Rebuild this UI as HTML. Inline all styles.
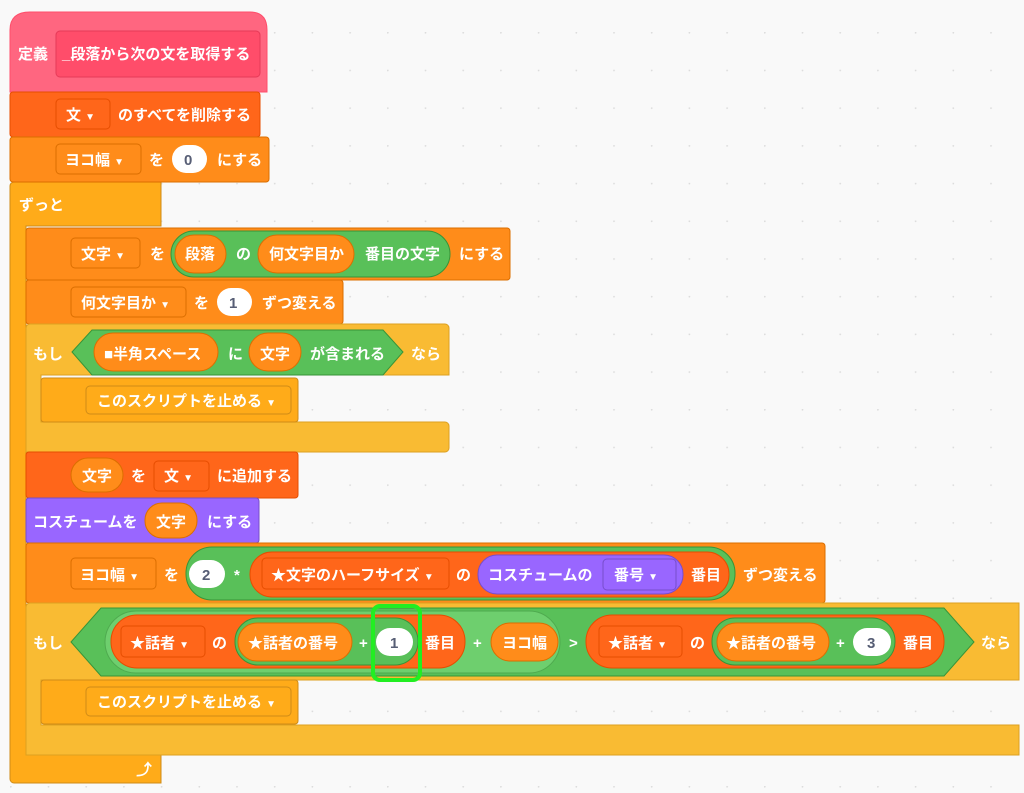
<!DOCTYPE html>
<html><head><meta charset="utf-8"><style>
html,body{margin:0;padding:0;background:#F9F9F9;}
svg{display:block}
text{font-family:"Liberation Sans","Noto Sans CJK JP",sans-serif;font-weight:bold;font-size:15px;fill:#fff;}
.d{fill:#575E75;}
.a{font-size:10px;}
</style></head><body>
<svg width="1024" height="793" viewBox="0 0 1024 793" xmlns="http://www.w3.org/2000/svg">
<defs><pattern id="g" x="10" y="32" width="37.7" height="37.7" patternUnits="userSpaceOnUse"><circle cx="0.8" cy="0.8" r="0.9" fill="#dcdcdc"/></pattern></defs>
<rect width="1024" height="793" fill="#F9F9F9"/>
<rect width="1024" height="793" fill="url(#g)"/>

<!-- forever -->
<path d="M10 186 a4 4 0 0 1 4 -4 H161 V226 H26 V755 H161 V783 H14 a4 4 0 0 1 -4 -4 Z" fill="#FFAB19" stroke="#CF8B17" stroke-width="1"/>
<text x="19" y="210">ずっと</text>
<text x="136" y="775" style="font-size:16px">⤴</text>

<!-- define hat -->
<path d="M10 30 Q10 12 30 12 H250 Q267 12 267 30 V92 H10 Z" fill="#FF6680" stroke="#FF4D6A"/>
<rect x="56" y="31" width="204" height="46" rx="4" fill="#FF4D6A" stroke="#E63A58"/>
<text x="18" y="59">定義</text>
<text x="62" y="59">_段落から次の文を取得する</text>

<!-- delete all -->
<rect x="10" y="92" width="250" height="45" rx="3" fill="#FF661A" stroke="#E64D00"/>
<rect x="56" y="99" width="54" height="30" rx="4" fill="#FF661A" stroke="#E64D00"/>
<text x="66" y="120">文 <tspan class="a">▼</tspan></text>
<text x="118" y="120">のすべてを削除する</text>

<!-- set yoko 0 -->
<rect x="10" y="137" width="259" height="45" rx="3" fill="#FF8C1A" stroke="#DB6E00"/>
<rect x="56" y="144" width="85" height="30" rx="4" fill="#FF8C1A" stroke="#DB6E00"/>
<text x="65" y="165">ヨコ幅 <tspan class="a">▼</tspan></text>
<text x="149" y="165">を</text>
<rect x="172" y="145" width="35" height="28" rx="14" fill="#fff"/>
<text x="184" y="165" class="d">0</text>
<text x="217" y="165">にする</text>

<!-- set 文字 -->
<rect x="26" y="228" width="484" height="52" rx="3" fill="#FF8C1A" stroke="#DB6E00"/>
<rect x="71" y="238" width="69" height="30" rx="4" fill="#FF8C1A" stroke="#DB6E00"/>
<text x="81" y="259">文字 <tspan class="a">▼</tspan></text>
<text x="150" y="259">を</text>
<rect x="171" y="231" width="279" height="46" rx="23" fill="#59C059" stroke="#389438"/>
<rect x="175" y="235" width="51" height="38" rx="19" fill="#FF8C1A" stroke="#DB6E00"/>
<text x="185" y="259">段落</text>
<text x="236" y="259">の</text>
<rect x="258" y="235" width="96" height="38" rx="19" fill="#FF8C1A" stroke="#DB6E00"/>
<text x="269" y="259">何文字目か</text>
<text x="365" y="259">番目の文字</text>
<text x="459" y="259">にする</text>

<!-- change 何文字目か -->
<rect x="26" y="280" width="317" height="44" rx="3" fill="#FF8C1A" stroke="#DB6E00"/>
<rect x="71" y="287" width="115" height="30" rx="4" fill="#FF8C1A" stroke="#DB6E00"/>
<text x="81" y="308">何文字目か <tspan class="a">▼</tspan></text>
<text x="194" y="308">を</text>
<rect x="217" y="288" width="35" height="28" rx="14" fill="#fff"/>
<text x="229" y="308" class="d">1</text>
<text x="262" y="308">ずつ変える</text>

<!-- if 1 -->
<path d="M26 328 a4 4 0 0 1 4 -4 H445 a4 4 0 0 1 4 4 V375 H41 V422 H445 a4 4 0 0 1 4 4 V448 a4 4 0 0 1 -4 4 H26 Z" fill="#F9BB33" stroke="#DDA020"/>
<text x="33" y="359">もし</text>
<polygon points="72,352 92,330 383,330 403,352 383,375 92,375" fill="#59C059" stroke="#389438"/>
<rect x="94" y="333" width="124" height="38" rx="19" fill="#FF8C1A" stroke="#DB6E00"/>
<text x="104" y="359">■半角スペース</text>
<text x="228" y="359">に</text>
<rect x="249" y="333" width="52" height="38" rx="19" fill="#FF8C1A" stroke="#DB6E00"/>
<text x="260" y="359">文字</text>
<text x="310" y="359">が含まれる</text>
<text x="411" y="359">なら</text>
<rect x="41" y="378" width="257" height="44" rx="3" fill="#FFAB19" stroke="#CF8B17"/>
<rect x="86" y="386" width="205" height="28" rx="4" fill="#FFAB19" stroke="#CF8B17"/>
<text x="97" y="406">このスクリプトを止める <tspan class="a">▼</tspan></text>

<!-- add to list -->
<rect x="26" y="452" width="272" height="46" rx="3" fill="#FF661A" stroke="#E64D00"/>
<rect x="71" y="458" width="52" height="34" rx="17" fill="#FF8C1A" stroke="#DB6E00"/>
<text x="82" y="481">文字</text>
<text x="131" y="481">を</text>
<rect x="154" y="461" width="55" height="30" rx="4" fill="#FF661A" stroke="#E64D00"/>
<text x="164" y="481">文 <tspan class="a">▼</tspan></text>
<text x="217" y="481">に追加する</text>

<!-- costume -->
<rect x="26" y="498" width="233" height="45" rx="3" fill="#9966FF" stroke="#774DCB"/>
<text x="33" y="527">コスチュームを</text>
<rect x="145" y="503" width="52" height="35" rx="17" fill="#FF8C1A" stroke="#DB6E00"/>
<text x="156" y="527">文字</text>
<text x="207" y="527">にする</text>

<!-- change ヨコ幅 -->
<rect x="26" y="543" width="799" height="60" rx="3" fill="#FF8C1A" stroke="#DB6E00"/>
<rect x="71" y="558" width="85" height="31" rx="4" fill="#FF8C1A" stroke="#DB6E00"/>
<text x="80" y="580">ヨコ幅 <tspan class="a">▼</tspan></text>
<text x="164" y="580">を</text>
<rect x="186" y="547" width="549" height="53" rx="26" fill="#59C059" stroke="#389438"/>
<rect x="189" y="560" width="36" height="28" rx="14" fill="#fff"/>
<text x="202" y="580" class="d">2</text>
<text x="234" y="580">*</text>
<rect x="250" y="552" width="479" height="45" rx="22" fill="#FF661A" stroke="#E64D00"/>
<rect x="262" y="558" width="187" height="31" rx="4" fill="#FF661A" stroke="#E64D00"/>
<text x="271" y="580">★文字のハーフサイズ <tspan class="a">▼</tspan></text>
<text x="456" y="580">の</text>
<rect x="478" y="555" width="205" height="39" rx="19" fill="#9966FF" stroke="#774DCB"/>
<text x="488" y="580">コスチュームの</text>
<rect x="603" y="559" width="73" height="31" rx="4" fill="#9966FF" stroke="#774DCB"/>
<text x="614" y="580">番号 <tspan class="a">▼</tspan></text>
<text x="691" y="580">番目</text>
<text x="743" y="580">ずつ変える</text>

<!-- if 2 -->
<path d="M26 607 a4 4 0 0 1 4 -4 H1019 V680 H41 V725 H1019 V755 H26 Z" fill="#F9BB33" stroke="#DDA020"/>
<text x="33" y="648">もし</text>
<polygon points="71,642 101,608 944,608 974,642 944,676 101,676" fill="#59C059" stroke="#389438"/>
<rect x="105" y="611" width="455" height="62" rx="31" fill="#6ECF6E" stroke="#4FAA4F"/>
<rect x="111" y="615" width="354" height="53" rx="26" fill="#FF661A" stroke="#E64D00"/>
<rect x="121" y="626" width="84" height="31" rx="4" fill="#FF661A" stroke="#E64D00"/>
<text x="130" y="648">★話者 <tspan class="a">▼</tspan></text>
<text x="212" y="648">の</text>
<rect x="235" y="618" width="183" height="47" rx="23" fill="#59C059" stroke="#389438"/>
<rect x="238" y="623" width="114" height="38" rx="19" fill="#FF8C1A" stroke="#DB6E00"/>
<text x="248" y="648">★話者の番号</text>
<text x="359" y="648">+</text>
<rect x="376" y="628" width="37" height="28" rx="14" fill="#fff"/>
<text x="390" y="648" class="d">1</text>
<text x="425" y="648">番目</text>
<text x="473" y="648">+</text>
<rect x="491" y="623" width="67" height="38" rx="19" fill="#FF8C1A" stroke="#DB6E00"/>
<text x="502" y="648">ヨコ幅</text>
<text x="569" y="648">&gt;</text>
<rect x="586" y="615" width="358" height="53" rx="26" fill="#FF661A" stroke="#E64D00"/>
<rect x="599" y="626" width="83" height="31" rx="4" fill="#FF661A" stroke="#E64D00"/>
<text x="608" y="648">★話者 <tspan class="a">▼</tspan></text>
<text x="690" y="648">の</text>
<rect x="712" y="618" width="183" height="47" rx="23" fill="#59C059" stroke="#389438"/>
<rect x="717" y="623" width="112" height="38" rx="19" fill="#FF8C1A" stroke="#DB6E00"/>
<text x="726" y="648">★話者の番号</text>
<text x="836" y="648">+</text>
<rect x="853" y="628" width="38" height="28" rx="14" fill="#fff"/>
<text x="867" y="648" class="d">3</text>
<text x="903" y="648">番目</text>
<text x="981" y="648">なら</text>
<rect x="373" y="606" width="47" height="74" rx="7" fill="none" stroke="#22EE22" stroke-width="4"/>
<rect x="41" y="680" width="257" height="44" rx="3" fill="#FFAB19" stroke="#CF8B17"/>
<rect x="86" y="687" width="205" height="29" rx="4" fill="#FFAB19" stroke="#CF8B17"/>
<text x="97" y="707">このスクリプトを止める <tspan class="a">▼</tspan></text>
</svg>
</body></html>
